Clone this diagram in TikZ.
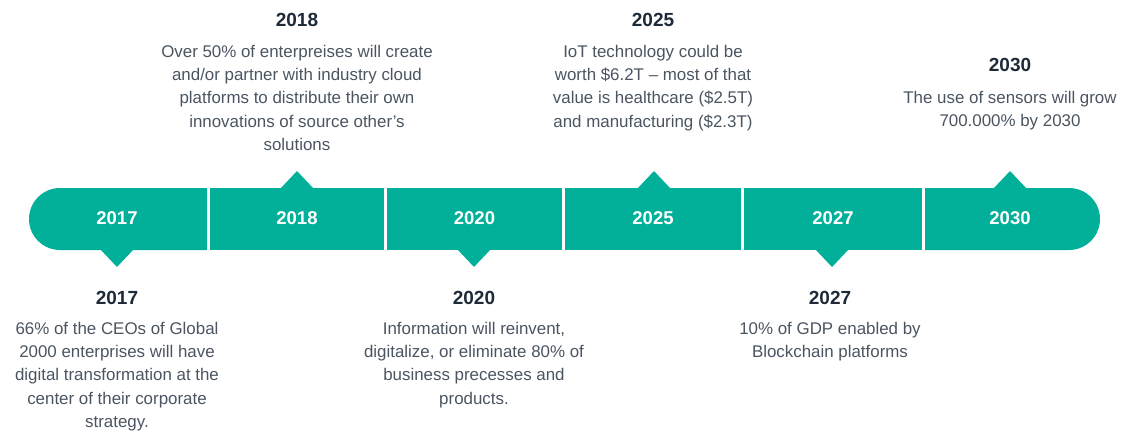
\documentclass[tikz,border=0pt]{standalone}
\usepackage{fontspec}
\setmainfont{Liberation Sans}
\definecolor{barteal}{HTML}{02B09A}
\definecolor{titlecol}{HTML}{1E2A38}
\definecolor{bodycol}{HTML}{4A5561}
\newcommand\bodylines[1]{\begin{tabular}[t]{@{}c@{}}#1\end{tabular}}
\begin{document}
\begin{tikzpicture}[x=1pt,y=-1pt,
  seg/.style={fill=barteal, draw=none},
  yearlbl/.style={text=white, font=\fontsize{18.5}{20}\selectfont\bfseries, anchor=base, inner sep=0pt},
  ttl/.style={text=titlecol, font=\fontsize{19}{22}\selectfont\bfseries, anchor=base, inner sep=0pt},
  body/.style={text=bodycol, font=\fontsize{16.9}{23.2}\selectfont, anchor=base, inner sep=0pt}]
\useasboundingbox (0,0) rectangle (1125,432);
% bar segments
\fill[seg] (207,188) -- (60,188) arc[start angle=270, end angle=90, radius=31] -- (207,250) -- cycle;
\fill[seg] (210,188) rectangle (384,250);
\fill[seg] (387,188) rectangle (562,250);
\fill[seg] (565,188) rectangle (741,250);
\fill[seg] (744,188) rectangle (922,250);
\fill[seg] (925,188) -- (1069,188) arc[start angle=-90, end angle=90, radius=31] -- (925,250) -- cycle;
% pointers
\foreach \px in {117,474,832} {\fill[seg] (\px-17,249) -- (\px+17,249) -- (\px,267) -- cycle;}
\foreach \px in {297,654,1010} {\fill[seg] (\px-17,189) -- (\px+17,189) -- (\px,171) -- cycle;}
% bar labels
\node[yearlbl] (b2017) at (117,224.3) {2017};
\node[yearlbl] (b2018) at (297,224.3) {2018};
\node[yearlbl] (b2020) at (474.5,224.3) {2020};
\node[yearlbl] (b2025) at (653,224.3) {2025};
\node[yearlbl] (b2027) at (833,224.3) {2027};
\node[yearlbl] (b2030) at (1010,224.3) {2030};
% top texts
\node[ttl] (t2018) at (297,26.7) {2018};
\node[body] (d2018) at (297,57.5) {\bodylines{Over 50\% of enterpreises will create\\and/or partner with industry cloud\\platforms to distribute their own\\innovations of source other’s\\solutions}};
\node[ttl] (t2025) at (653,26.7) {2025};
\node[body] (d2025) at (653,57.5) {\bodylines{IoT technology could be\\worth \$6.2T – most of that\\value is healthcare (\$2.5T)\\and manufacturing (\$2.3T)}};
\node[ttl] (t2030) at (1010,71.7) {2030};
\node[body] (d2030) at (1010,103) {\bodylines{The use of sensors will grow\\700.000\% by 2030}};
% bottom texts
\node[ttl] (t2017) at (117,304) {2017};
\node[body] (d2017) at (117,334.5) {\bodylines{66\% of the CEOs of Global\\2000 enterprises will have\\digital transformation at the\\center of their corporate\\strategy.}};
\node[ttl] (t2020) at (474,304) {2020};
\node[body] (d2020) at (474,334.5) {\bodylines{Information will reinvent,\\digitalize, or eliminate 80\% of\\business precesses and\\products.}};
\node[ttl] (t2027) at (830,304) {2027};
\node[body] (d2027) at (830,334.5) {\bodylines{10\% of GDP enabled by\\Blockchain platforms}};
\end{tikzpicture}
\end{document}
